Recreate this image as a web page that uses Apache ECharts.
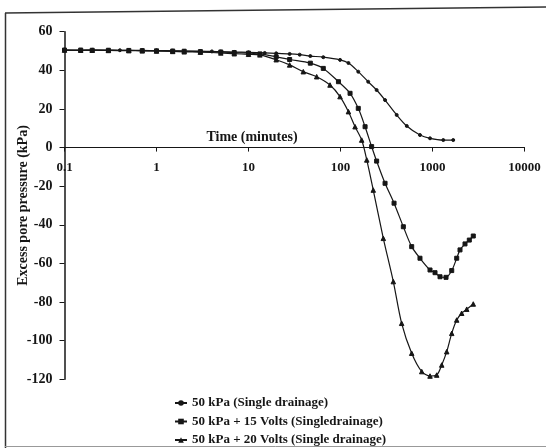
<!DOCTYPE html>
<html>
<head>
<meta charset="utf-8">
<script src="https://cdn.jsdelivr.net/npm/echarts@6/dist/echarts.min.js"></script>
<style>
  html, body { margin: 0; padding: 0; background: #fff; }
  #chart { width: 546px; height: 448px; }
</style>
</head>
<body>
<div id="chart"></div>
<script>
// ---- Data ----
const seriesNames = [
  '50 kPa (Single drainage)',
  '50 kPa + 15 Volts (Singledrainage)',
  '50 kPa + 20 Volts (Single drainage)'
];

const xAxisTitle = 'Time (minutes)';
const yAxisTitle = 'Excess pore pressure (kPa)';
const yTicks = [60, 40, 20, 0, -20, -40, -60, -80, -100, -120];
const xTicks = [0.1, 1, 10, 100, 1000, 10000];

// 50 kPa (single drainage)
const time1 = [0.1, 0.15, 0.2, 0.3, 0.4, 0.5, 0.7, 1, 1.5, 2, 3, 4, 5, 7, 10, 15, 20, 28, 36, 47, 65, 99, 122, 156, 200, 247, 305, 408, 525, 731, 940, 1310, 1680];
const pressure1 = [50.5, 50.3, 50.6, 50.5, 50.4, 50.4, 50.3, 50.2, 50.1, 50, 49.9, 49.8, 49.7, 49.5, 49.3, 49, 48.8, 48.5, 48.1, 47.4, 46.8, 45.4, 43.8, 39.3, 34.1, 29.8, 24.6, 16.9, 11.2, 6.5, 4.8, 3.9, 3.9];

// 50 kPa + 15 Volts
const time2 = [0.1, 0.15, 0.2, 0.3, 0.5, 0.7, 1, 1.5, 2, 3, 5, 7, 10, 13.3, 20, 28, 47, 65, 95, 127, 156, 185, 218, 247, 305, 382, 482, 594, 731, 940, 1065, 1207, 1403, 1618, 1833, 1991, 2256, 2512, 2775];
const pressure2 = [50.5, 50.5, 50.4, 50.4, 50.3, 50.2, 50.1, 50, 49.9, 49.7, 49.5, 49.2, 48.9, 48.5, 47, 45.6, 43.7, 41, 34.1, 28.1, 20.3, 10.8, 0.5, -7, -18.5, -28.8, -41, -51.3, -57.3, -63.4, -64.8, -66.9, -67.2, -63.7, -57.3, -53, -49.9, -47.9, -45.8];

// 50 kPa + 20 Volts
const time3 = [0.1, 0.15, 0.2, 0.3, 0.5, 0.7, 1, 1.5, 2, 3, 5, 7, 10, 13.3, 20, 28, 39.4, 55.1, 76.9, 98.8, 122, 144, 170, 193, 227, 292, 375, 462, 594, 764, 940, 1111, 1260, 1427, 1618, 1833, 2075, 2355, 2775];
const pressure3 = [50.5, 50.4, 50.4, 50.3, 50.2, 50.1, 50, 49.8, 49.6, 49.4, 49, 48.6, 48.3, 48, 45.5, 42.8, 39.3, 36.7, 32.4, 26.4, 18.6, 10.8, 3.9, -6.4, -22, -47, -69.4, -91, -106.5, -116, -118.3, -117.8, -112.6, -105.7, -96.2, -89.3, -85.8, -83.7, -81];

// ---- Build chart ----
const FONT = '"Liberation Serif", "DejaVu Serif", serif';
const INK = '#161616';

function pairs(t, v) { return t.map((x, i) => [x, v[i]]); }

const markerShapes = ['circle', 'rect', 'triangle'];
const markerSizes = [3, 4, 4.5];
const allTimes = [time1, time2, time3];
const allVals = [pressure1, pressure2, pressure3];

const GRID_TOP = 31.7, GRID_BOTTOM_PX = 379.3;
const yMin = -120, yMax = 60;
// Distance from plot bottom to the zero line, so the x axis sits on y = 0
const zeroOffset = (GRID_BOTTOM_PX - GRID_TOP) * (0 - yMin) / (yMax - yMin);

const chart = echarts.init(document.getElementById('chart'), null, { renderer: 'canvas' });

chart.setOption({
  animation: false,
  backgroundColor: '#ffffff',
  grid: { left: 64.5, right: 21.5, top: GRID_TOP, bottom: 448 - GRID_BOTTOM_PX, containLabel: false },
  legend: {
    orient: 'vertical',
    left: 174,
    top: 396,
    height: 70,
    padding: 0,
    itemWidth: 12,
    itemHeight: 7,
    itemGap: 4.5,
    data: seriesNames,
    textStyle: { fontFamily: FONT, fontSize: 13, fontWeight: 'bold', color: INK, lineHeight: 14 }
  },
  xAxis: {
    type: 'log',
    logBase: 10,
    min: 0.1,
    max: 10000,
    position: 'bottom',
    offset: -zeroOffset,
    axisLine: { onZero: false, lineStyle: { color: INK, width: 1.2 } },
    axisTick: { show: true, length: 4, lineStyle: { color: INK } },
    splitLine: { show: false },
    axisLabel: {
      margin: 14,
      fontFamily: FONT,
      fontSize: 13,
      fontWeight: 'bold',
      color: INK,
      formatter: function (v) {
        const match = xTicks.find(t => Math.abs(Math.log10(t) - Math.log10(v)) < 1e-6);
        return match !== undefined ? String(match) : '';
      }
    }
  },
  yAxis: {
    type: 'value',
    min: yMin,
    max: yMax,
    interval: 20,
    name: yAxisTitle,
    nameLocation: 'middle',
    nameGap: 34,
    nameMoveOverlap: false,
    nameTextStyle: { fontFamily: FONT, fontSize: 14, fontWeight: 'bold', color: INK },
    axisLine: { show: true, onZero: false, lineStyle: { color: INK, width: 1.5 } },
    axisTick: { show: true, length: 5, lineStyle: { color: INK } },
    splitLine: { show: false },
    axisLabel: {
      margin: 12,
      fontFamily: FONT,
      fontSize: 14,
      fontWeight: 'bold',
      color: INK,
      formatter: function (v) { return yTicks.includes(v) ? String(v) : ''; }
    }
  },
  graphic: [
    { type: 'line', shape: { x1: 5, y1: 13, x2: 546, y2: 7 }, style: { stroke: '#333', lineWidth: 1.5 }, silent: true },
    { type: 'line', shape: { x1: 5.5, y1: 13, x2: 5.5, y2: 448 }, style: { stroke: '#333', lineWidth: 1.5 }, silent: true },
    { type: 'line', shape: { x1: 5, y1: 446.5, x2: 546, y2: 446.5 }, style: { stroke: '#999', lineWidth: 1 }, silent: true },
    {
      type: 'text', x: 252, y: 137, silent: true,
      style: { text: xAxisTitle, fontFamily: FONT, fontSize: 14, fontWeight: 'bold', fill: INK, align: 'center', verticalAlign: 'middle' }
    }
  ],
  series: seriesNames.map((name, i) => ({
    name: name,
    type: 'line',
    data: pairs(allTimes[i], allVals[i]),
    smooth: 0.3,
    symbol: markerShapes[i],
    symbolSize: markerSizes[i],
    showSymbol: true,
    lineStyle: { color: INK, width: 1.2 },
    itemStyle: { color: INK, borderColor: INK },
    z: 3 - i
  }))
});
</script>
</body>
</html>
